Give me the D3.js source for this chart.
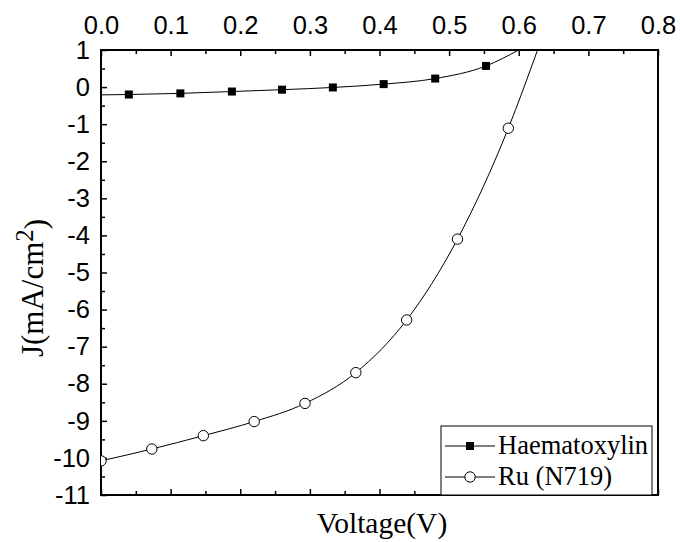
<!DOCTYPE html>
<html>
<head>
<meta charset="utf-8">
<script src="https://cdn.jsdelivr.net/npm/d3@7"></script>
<style>
  body { margin: 0; background: #fff; }
  .tick text { font-family: "Liberation Sans", Arial, sans-serif; font-size: 25.5px; fill: #000; }
  .serif { font-family: "Liberation Serif", "Times New Roman", serif; fill: #000; }
</style>
</head>
<body>
<div id="chart"></div>
<script>
// J-V curves
const haemV = [0.040, 0.114, 0.188, 0.260, 0.333, 0.406, 0.480, 0.553];
const haemJ = [-0.20, -0.17, -0.12, -0.07, -0.01, 0.08, 0.23, 0.57];
const haemStart = [0.0, -0.21];
const haemEnd = [0.60, 1.0];

const ruV = [0.0, 0.073, 0.147, 0.220, 0.293, 0.366, 0.439, 0.512, 0.585];
const ruJ = [-10.08, -9.76, -9.40, -9.02, -8.53, -7.70, -6.28, -4.10, -1.11];
const ruEnd = [0.627, 1.0];

const xTicks = [0, 0.1, 0.2, 0.3, 0.4, 0.5, 0.6, 0.7, 0.8];
const yTicks = [1, 0, -1, -2, -3, -4, -5, -6, -7, -8, -9, -10, -11];
const seriesNames = ['Haematoxylin', 'Ru (N719)'];

const width = 680;
const height = 542;
const margin = { top: 50, right: 22, bottom: 47, left: 101 };

const svg = d3.select('#chart')
  .append('svg')
  .attr('width', width)
  .attr('height', height);

const x = d3.scaleLinear().domain([0, 0.8]).range([margin.left, width - margin.right]);
const y = d3.scaleLinear().domain([-11, 1]).range([height - margin.bottom, margin.top]);

const minorX = d3.range(0, 8).map(i => i * 0.1 + 0.05);
const minorY = d3.range(-11, 1).map(v => v + 0.5);

// top axis with labels, ticks pointing in
const topAxis = svg.append('g')
  .attr('transform', `translate(0, ${margin.top})`)
  .call(d3.axisTop(x).tickValues(xTicks).tickSizeInner(-6).tickSizeOuter(0).tickPadding(16)
    .tickFormat(d3.format('.1f')));
topAxis.append('g').call(d3.axisTop(x).tickValues(minorX).tickSizeInner(-4).tickSizeOuter(0).tickFormat(''));

const bottomAxis = svg.append('g')
  .attr('transform', `translate(0, ${height - margin.bottom})`)
  .call(d3.axisBottom(x).tickValues(xTicks).tickSizeInner(-6).tickSizeOuter(0).tickFormat(''));
bottomAxis.append('g').call(d3.axisBottom(x).tickValues(minorX).tickSizeInner(-4).tickSizeOuter(0).tickFormat(''));

const leftAxis = svg.append('g')
  .attr('transform', `translate(${margin.left}, 0)`)
  .call(d3.axisLeft(y).tickValues(yTicks).tickSizeInner(-6).tickSizeOuter(0).tickPadding(11)
    .tickFormat(d => String(d)));
leftAxis.append('g').call(d3.axisLeft(y).tickValues(minorY).tickSizeInner(-4).tickSizeOuter(0).tickFormat(''));

svg.selectAll('.domain').remove();
svg.selectAll('.tick line').attr('stroke', '#000').attr('stroke-width', 1.5);

// frame
svg.append('rect')
  .attr('x', x(0))
  .attr('y', y(1))
  .attr('width', x(0.8) - x(0))
  .attr('height', y(-11) - y(1))
  .attr('fill', 'none')
  .attr('stroke', '#000')
  .attr('stroke-width', 2);

svg.append('clipPath').attr('id', 'plot')
  .append('rect')
  .attr('x', x(0))
  .attr('y', y(1))
  .attr('width', x(0.8) - x(0))
  .attr('height', y(-11) - y(1));

const plot = svg.append('g').attr('clip-path', 'url(#plot)');

const line = d3.line()
  .x(d => x(d[0]))
  .y(d => y(d[1]))
  .curve(d3.curveMonotoneX);

const haemPts = [haemStart, ...haemV.map((v, i) => [v, haemJ[i]]), haemEnd];
const ruPts = [...ruV.map((v, i) => [v, ruJ[i]]), ruEnd];

plot.append('path')
  .attr('d', line(haemPts))
  .attr('fill', 'none')
  .attr('stroke', '#000')
  .attr('stroke-width', 1);

plot.append('path')
  .attr('d', line(ruPts))
  .attr('fill', 'none')
  .attr('stroke', '#000')
  .attr('stroke-width', 1);

plot.selectAll('.sq')
  .data(haemV)
  .enter()
  .append('rect')
  .attr('x', (v) => x(v) - 4)
  .attr('y', (v, i) => y(haemJ[i]) - 4)
  .attr('width', 8)
  .attr('height', 8)
  .attr('fill', '#000');

plot.selectAll('.ci')
  .data(ruV)
  .enter()
  .append('circle')
  .attr('cx', v => x(v))
  .attr('cy', (v, i) => y(ruJ[i]))
  .attr('r', 5.2)
  .attr('fill', '#fff')
  .attr('stroke', '#000')
  .attr('stroke-width', 1);

// legend
const lg = svg.append('g');
lg.append('rect')
  .attr('x', 441)
  .attr('y', 426)
  .attr('width', 211)
  .attr('height', 69)
  .attr('fill', '#fff')
  .attr('stroke', '#000')
  .attr('stroke-width', 1);

seriesNames.forEach((name, i) => {
  const ly = 446 + i * 31;
  lg.append('line')
    .attr('x1', 445).attr('x2', 495)
    .attr('y1', ly).attr('y2', ly)
    .attr('stroke', '#000')
    .attr('stroke-width', 1);
  if (i === 0) {
    lg.append('rect').attr('x', 466).attr('y', ly - 4).attr('width', 8).attr('height', 8).attr('fill', '#000');
  } else {
    lg.append('circle').attr('cx', 470).attr('cy', ly).attr('r', 5.2)
      .attr('fill', '#fff').attr('stroke', '#000');
  }
  lg.append('text')
    .attr('class', 'serif')
    .attr('x', 498)
    .attr('y', ly + 8)
    .style('font-size', '26.5px')
    .text(name);
});

// axis titles
svg.append('text')
  .attr('class', 'serif')
  .attr('x', 382)
  .attr('y', 533)
  .attr('text-anchor', 'middle')
  .style('font-size', '29.5px')
  .text('Voltage(V)');

const yt = svg.append('text')
  .attr('class', 'serif')
  .attr('transform', 'translate(43, 288) rotate(-90)')
  .attr('text-anchor', 'middle')
  .style('font-size', '31px');
yt.append('tspan').text('J(mA/cm');
yt.append('tspan').attr('dy', '-0.42em').style('font-size', '25px').text('2');
yt.append('tspan').attr('dy', '0.42em').text(')');
</script>
</body>
</html>
